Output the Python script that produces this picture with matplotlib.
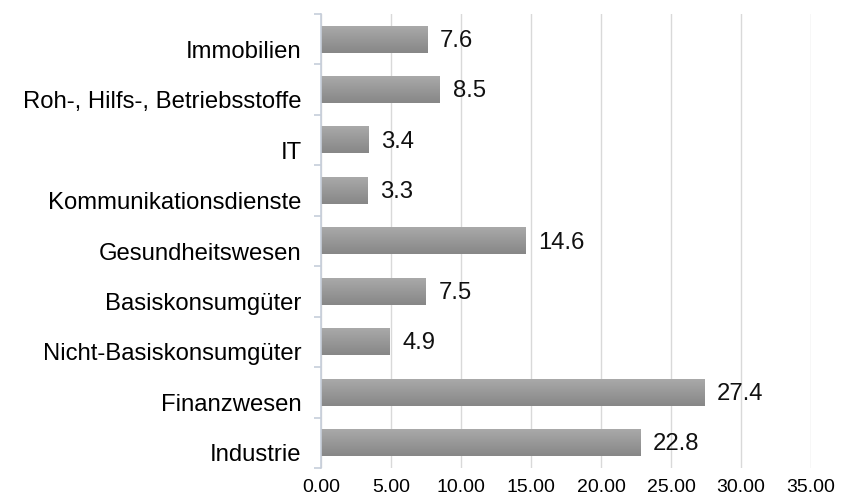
import numpy as np
import matplotlib.pyplot as plt
from matplotlib.colors import LinearSegmentedColormap
from matplotlib.transforms import ScaledTranslation

categories = ["Industrie", "Finanzwesen", "Nicht-Basiskonsumgüter", "Basiskonsumgüter",
              "Gesundheitswesen", "Kommunikationsdienste", "IT",
              "Roh-, Hilfs-, Betriebsstoffe", "Immobilien"]
values = [22.8, 27.4, 4.9, 7.5, 14.6, 3.3, 3.4, 8.5, 7.6]
xticks = [0, 5, 10, 15, 20, 25, 30, 35]

plt.rcParams['font.family'] = ['Liberation Sans', 'DejaVu Sans']

fig = plt.figure(figsize=(8.54, 5.0), dpi=100)
ax = fig.add_axes([321 / 854, 32 / 500, 490 / 854, 454 / 500])

y = np.arange(len(categories))
bar_h = 0.53
grad = LinearSegmentedColormap.from_list("g", ["#a9a9a9", "#878787"])
gimg = np.linspace(0, 1, 50).reshape(-1, 1)

bars = ax.barh(y, values, height=bar_h, color="none", zorder=2)
for b in bars:
    x0, y0 = b.get_x(), b.get_y()
    w, h = b.get_width(), b.get_height()
    ax.imshow(gimg, cmap=grad, aspect="auto", zorder=2,
              extent=[x0, x0 + w, y0, y0 + h], origin="upper")

for yi, v in zip(y, values):
    ax.text(v + 0.9, yi - 0.03, f"{v:.1f}", va="center", ha="left", fontsize=17.2, color="#111111")

ax.set_xlim(0, 35)
ax.set_ylim(-0.5, len(categories) - 0.5)
ax.set_xticks(xticks)
ax.set_xticklabels([f"{t:.2f}" for t in xticks], fontsize=14)
ax.set_yticks(y)
ax.set_yticklabels(categories, fontsize=17.2)
ax.set_yticks(np.arange(-0.5, len(categories), 1), minor=True)
ax.tick_params(axis="y", which="major", length=0, pad=14)
ax.tick_params(axis="y", which="minor", length=5, color="#c6ceda", width=1.2)
ax.tick_params(axis="x", length=0, pad=8)

# category labels sit a bit below the bar centres
shift = ScaledTranslation(0, -0.10, fig.dpi_scale_trans)
for lab in ax.get_yticklabels():
    lab.set_transform(lab.get_transform() + shift)

ax.grid(axis="x", color="#d9d9d9", linewidth=1, zorder=0)
ax.set_axisbelow(True)
for s in ["top", "right", "bottom"]:
    ax.spines[s].set_visible(False)
ax.spines["left"].set_color("#c6ceda")
ax.spines["left"].set_linewidth(1.2)

fig.savefig("out.png", dpi=100)
